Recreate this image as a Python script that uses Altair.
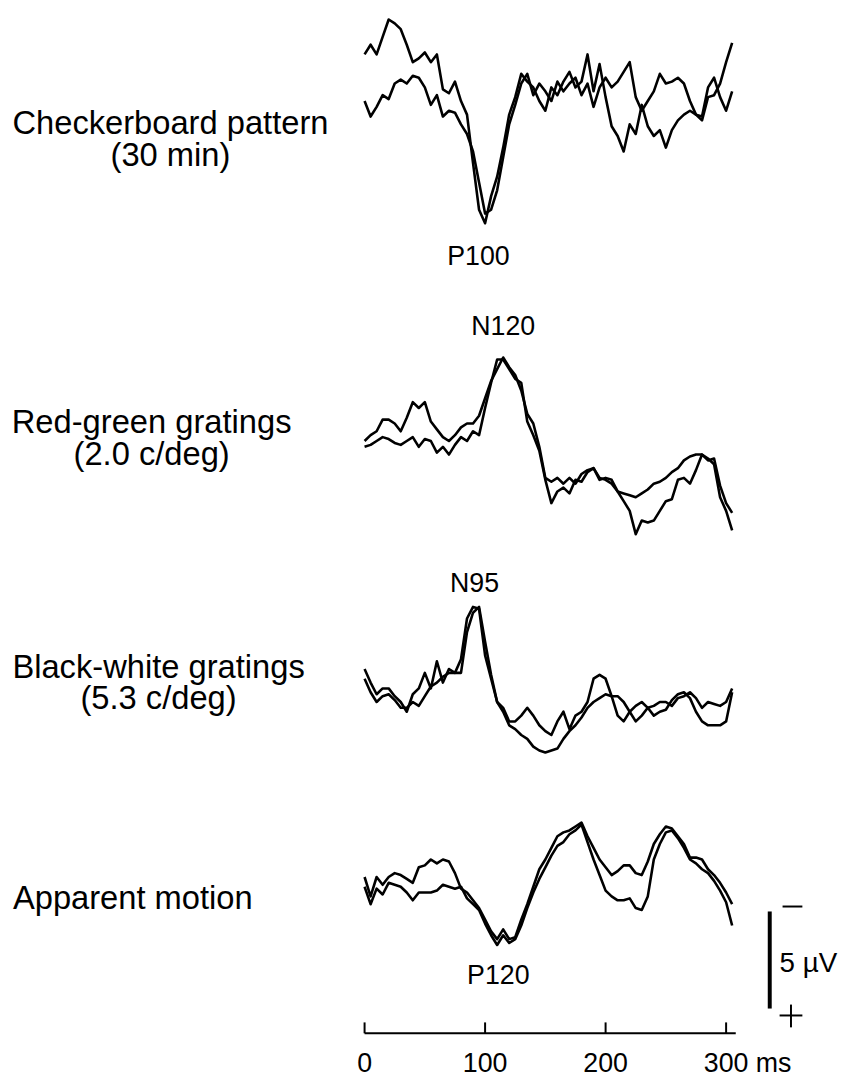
import altair as alt
import pandas as pd

# ---------------- data (µV, negative = up, sampled every 5 ms from 0 ms) ----------------
checker_a = [-1.8,-2.3,-1.8,-2.7,-3.6,-3.4,-3.1,-2.3,-1.4,-1.6,-1.9,-1.4,-1.8,0.0,0.2,-0.4,0.6,1.3,3.8,6.2,
             6.9,5.5,4.5,3.0,1.3,0.4,-0.8,-0.4,-0.1,0.6,1.1,-0.1,0.3,-0.4,-0.9,-0.1,-0.4,-1.8,0.1,-1.3,
             0.4,1.9,2.4,3.2,1.8,2.3,0.8,1.9,2.4,2.1,3.0,2.1,1.6,1.3,1.1,1.3,1.6,0.4,0.3,-0.3,-1.4,-2.4]
checker_b = [0.6,1.4,0.9,0.3,0.5,-0.3,-0.5,-0.3,-0.7,-0.6,-0.1,0.8,0.3,1.4,1.1,1.2,1.8,2.3,3.2,4.8,
             6.4,6.2,5.2,3.5,1.8,0.8,-0.3,-0.8,0.3,-0.3,0.1,0.6,-0.4,0.1,-0.3,-0.6,0.3,-0.3,0.9,-0.1,
             -0.6,-0.1,-0.4,-0.9,-1.4,0.4,1.1,0.6,0.1,-0.8,-0.3,-0.4,-0.6,-0.3,0.6,1.3,1.4,-0.1,-0.6,0.4,1.1,0.1]
redgreen_a = [0.0,-0.3,-0.5,-1.1,-1.1,-0.9,-0.5,-1.2,-2.0,-1.7,-2.0,-1.0,-0.6,-0.2,0.0,-0.3,-0.7,-0.9,-0.9,-1.3,
              -2.2,-3.1,-3.7,-4.3,-3.8,-3.4,-2.6,-1.4,-0.9,0.3,1.9,2.1,1.9,2.2,1.9,2.2,1.7,1.5,1.4,1.9,
              2.0,2.2,2.6,2.7,2.8,2.9,2.7,2.5,2.2,2.1,1.9,1.6,1.4,1.0,0.8,0.7,0.7,1.0,0.9,2.3,3.2,3.7]
redgreen_b = [0.3,0.2,0.0,-0.2,-0.1,0.1,0.2,0.0,-0.2,0.3,-0.1,0.0,0.6,0.3,0.7,0.2,-0.2,0.0,-0.5,-0.3,
              -1.7,-3.0,-4.2,-4.2,-3.7,-3.2,-3.0,-1.0,-0.3,0.5,2.0,3.2,2.6,2.4,2.7,2.0,2.1,1.6,1.4,2.0,
              1.9,2.0,2.6,3.1,3.6,4.8,4.1,4.2,4.1,3.6,3.1,3.0,2.0,1.9,2.2,1.5,0.7,0.9,1.2,2.9,3.6,4.6]
blackwhite_a = [-0.5,0.2,0.8,0.5,0.5,0.9,1.2,1.7,0.8,0.5,-0.3,0.5,-0.9,0.2,-0.5,-0.3,-1.0,-3.1,-3.7,-3.6,
                -1.2,0.0,1.2,1.5,2.2,2.2,1.9,1.5,1.9,2.4,2.7,2.9,2.2,1.7,2.6,1.9,1.7,1.2,0.0,-0.2,
                0.0,0.9,1.9,2.2,1.7,1.4,1.2,1.5,1.4,1.2,1.2,1.4,1.0,0.9,0.7,1.0,1.5,1.2,1.3,1.4,1.2,0.5]
blackwhite_b = [0.0,0.7,1.2,0.9,0.8,1.1,1.5,1.5,1.2,1.4,0.9,0.4,0.2,-0.1,-0.3,-0.3,-0.3,-2.4,-3.4,-3.7,
                -1.9,-0.2,1.2,1.7,2.4,2.6,2.9,3.1,3.5,3.7,3.8,3.7,3.6,3.1,2.7,2.4,2.0,1.5,1.2,1.0,
                0.8,0.9,0.9,1.2,1.7,2.2,1.9,1.5,1.9,1.7,1.6,1.1,0.8,0.7,1.0,1.7,2.2,2.4,2.4,2.4,2.2,0.7]
motion_a = [-0.5,0.5,-0.5,-0.1,-0.5,-0.7,-0.6,-0.4,-0.2,-1.0,-1.1,-1.4,-1.2,-1.4,-1.3,-0.7,0.1,0.3,0.7,1.1,
            1.7,2.3,2.7,2.2,2.7,2.6,1.7,0.9,0.0,-0.9,-1.4,-2.0,-2.6,-2.8,-2.9,-3.1,-3.3,-2.6,-2.0,-1.4,
            -1.0,-0.6,-0.8,-1.1,-1.1,-0.7,-0.6,-1.3,-2.2,-2.7,-3.1,-3.0,-2.6,-2.2,-1.5,-1.5,-1.4,-0.9,-0.6,-0.2,0.3,0.9]
motion_b = [0.0,0.9,0.1,0.4,-0.2,-0.1,0.0,0.3,0.7,0.3,0.3,0.3,0.2,-0.1,0.0,0.1,0.0,0.6,0.9,1.2,
            1.9,2.5,3.0,2.5,2.9,2.7,2.0,1.1,0.3,-0.4,-1.0,-1.6,-2.1,-2.3,-2.7,-2.9,-3.2,-2.3,-1.4,-0.6,
            0.2,0.5,0.7,0.7,0.6,1.1,1.2,0.5,-1.4,-2.2,-2.8,-2.9,-2.5,-2.0,-1.4,-1.2,-0.9,-0.7,-0.3,0.2,0.8,2.0]
TIME_STEP_MS = 5

panel_traces = [[checker_a, checker_b], [redgreen_a, redgreen_b],
                [blackwhite_a, blackwhite_b], [motion_a, motion_b]]
panel_names = ["Checkerboard pattern\n(30 min)", "Red-green gratings\n(2.0 c/deg)",
               "Black-white gratings\n(5.3 c/deg)", "Apparent motion"]
peak_names = ["P100", "N120", "N95", "P120"]
tick_values = [0, 100, 200, 300]
axis_end_ms = 308
scale_bar_uv = 5

# ---------------- layout (pixels of the plot area) ----------------
W, H = 841, 1072
X0_PX = 360            # where 0 ms sits
PX_PER_MS = 1.2167
PX_PER_UV = 19.6
BASELINE_PX = [77, 432, 672, 882]

xs = alt.Scale(domain=[-X0_PX / PX_PER_MS, (W - X0_PX) / PX_PER_MS], nice=False, zero=False)
ys = alt.Scale(domain=[0, H / PX_PER_UV], reverse=True, nice=False, zero=False)

rows = []
for p, traces in enumerate(panel_traces):
    off = BASELINE_PX[p] / PX_PER_UV
    for k, vals in enumerate(traces):
        for i, v in enumerate(vals):
            rows.append({"t": i * TIME_STEP_MS, "Y": off + v, "series": f"{p}-{k}"})
df = pd.DataFrame(rows)

FONT = "Liberation Sans"

traces = alt.Chart(df).mark_line(color="black", strokeWidth=2.6, strokeJoin="round").encode(
    x=alt.X("t:Q", scale=xs, axis=None),
    y=alt.Y("Y:Q", scale=ys, axis=None),
    detail="series:N",
)

# time axis
axis_df = pd.DataFrame({"a": [0], "b": [axis_end_ms]})
axis_line = alt.Chart(axis_df).mark_rule(color="black", strokeWidth=2).encode(
    x=alt.X("a:Q", scale=xs, axis=None), x2="b:Q", y=alt.value(1030))
ticks_df = pd.DataFrame({"tick": tick_values, "label": [str(v) for v in tick_values]})
ticks = alt.Chart(ticks_df).mark_rule(color="black", strokeWidth=2).encode(
    x=alt.X("tick:Q", scale=xs, axis=None), y=alt.value(1019), y2=alt.value(1030))
tick_labels = alt.Chart(ticks_df).mark_text(font=FONT, fontSize=27, baseline="alphabetic", color="black").encode(
    x=alt.X("tick:Q", scale=xs, axis=None), y=alt.value(1069), text="label:N")
ms_label = alt.Chart(pd.DataFrame({"tx": ["ms"]})).mark_text(
    font=FONT, fontSize=27, align="left", baseline="alphabetic", color="black").encode(
    x=alt.value(755), y=alt.value(1069), text="tx:N")

# scale bar
top_uv = (915 - 8) / PX_PER_UV
bar_df = pd.DataFrame({"bx": [336.2], "y1": [top_uv], "y2": [top_uv + scale_bar_uv]})
bar = alt.Chart(bar_df).mark_rule(color="black", strokeWidth=4).encode(
    x=alt.X("bx:Q", scale=xs, axis=None), y=alt.Y("y1:Q", scale=ys, axis=None), y2="y2:Q")
minus = alt.Chart(bar_df).mark_rule(color="black", strokeWidth=2).encode(
    x=alt.value(782), x2=alt.value(802), y=alt.value(902))
plus_h = alt.Chart(bar_df).mark_rule(color="black", strokeWidth=2).encode(
    x=alt.value(779), x2=alt.value(802), y=alt.value(1012))
plus_v = alt.Chart(bar_df).mark_rule(color="black", strokeWidth=2).encode(
    x=alt.value(790.5), y=alt.value(1001), y2=alt.value(1024))
uv_label = alt.Chart(pd.DataFrame({"tx": ["5 µV"]})).mark_text(
    font=FONT, fontSize=28, align="left", baseline="alphabetic", color="black").encode(
    x=alt.value(779), y=alt.value(968), text="tx:N")


def txt(s, x, y, size):
    return alt.Chart(pd.DataFrame({"tx": [s]})).mark_text(
        font=FONT, fontSize=size, align="center", baseline="alphabetic", color="black",
        lineBreak="\n", lineHeight=32).encode(
        x=alt.value(x), y=alt.value(y), text="tx:N")


name_pos = [(164, 122), (145, 424), (152, 671), (126, 905)]
peak_pos = [(475, 254), (500, 325), (471, 584), (495, 980)]
labels = [txt(s, x, y, 33) for s, (x, y) in zip(panel_names, name_pos)]
labels += [txt(s, x, y, 27) for s, (x, y) in zip(peak_names, peak_pos)]

chart = alt.layer(
    traces, axis_line, ticks, tick_labels, ms_label, bar, minus, plus_h, plus_v, uv_label, *labels
).properties(
    width=W, height=H, padding=0, autosize=alt.AutoSizeParams(type="none"), background="white"
).configure_view(stroke=None)

chart.save("out.html", embed_options={"renderer": "svg", "actions": False})
